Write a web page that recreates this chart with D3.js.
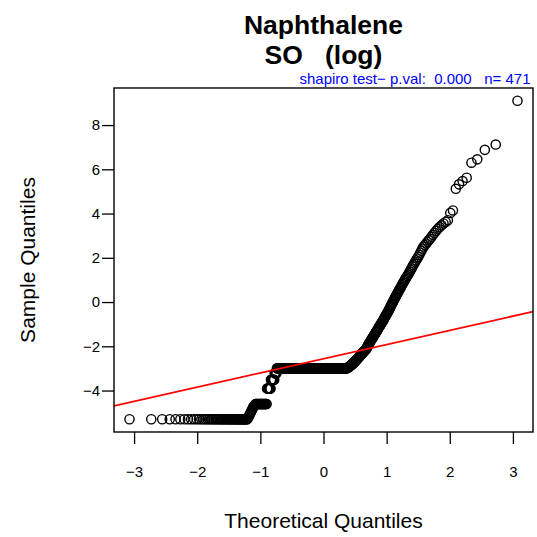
<!DOCTYPE html>
<html>
<head>
<meta charset="utf-8">
<script src="https://cdn.jsdelivr.net/npm/d3@7"></script>
<style>
  html, body { margin: 0; padding: 0; background: #fff; }
  svg { display: block; font-family: "Liberation Sans", Arial, Helvetica, sans-serif; }
  text { white-space: pre; }
</style>
</head>
<body>
<svg id="chart" width="537" height="537"></svg>
<script>
// ---- Data (sorted sample values, natural log scale) ----
// Tied lower values (detection-limit levels) and how many observations sit at each
const levelValues = [-5.298, -5.24, -5.18, -5.12, -5.06, -5.00, -4.94, -4.88, -4.82, -4.76, -4.71, -4.68, -4.65, -4.605, -3.912, -3.51, -3.22, -2.996];
const levelCounts = [54, 1, 1, 1, 1, 1, 1, 1, 1, 1, 1, 1, 1, 21, 8, 8, 5, 196];
// Remaining observations (ranks 305..471)
const upperValues = [
  -2.98,-2.97,-2.96,-2.95,-2.94,-2.93,
  -2.92,-2.90,-2.89,-2.87,-2.86,-2.85,-2.83,-2.82,-2.80,-2.79,
  -2.77,-2.75,-2.74,-2.72,-2.70,-2.68,-2.66,-2.65,-2.63,-2.61,
  -2.59,-2.57,-2.55,-2.53,-2.51,-2.49,-2.47,-2.45,-2.43,-2.41,
  -2.39,-2.37,-2.35,-2.33,-2.31,-2.28,-2.26,-2.24,-2.22,-2.20,
  -2.18,-2.16,-2.14,-2.12,-2.09,-2.05,-2.01,-1.97,-1.94,-1.90,
  -1.87,-1.83,-1.80,-1.77,-1.73,-1.70,-1.67,-1.64,-1.60,-1.57,
  -1.54,-1.50,-1.47,-1.43,-1.40,-1.36,-1.33,-1.29,-1.26,-1.22,
  -1.18,-1.14,-1.11,-1.07,-1.03,-0.99,-0.95,-0.92,-0.88,-0.84,
  -0.80,-0.75,-0.71,-0.66,-0.62,-0.58,-0.53,-0.49,-0.44,-0.40,
  -0.35,-0.29,-0.24,-0.18,-0.13,-0.08,-0.02,0.03,0.09,0.14,
  0.20,0.25,0.31,0.36,0.42,0.48,0.53,0.59,0.64,0.70,
  0.76,0.82,0.88,0.94,1.00,1.06,1.12,1.18,1.24,1.30,
  1.37,1.45,1.52,1.60,1.67,1.74,1.82,1.89,1.97,2.04,
  2.13,2.23,2.32,2.42,2.51,2.58,2.65,2.72,2.79,2.86,
  2.95,3.04,3.13,3.22,3.31,3.39,3.47,3.55,3.62,3.70,
  4.03,4.14,5.12,5.32,5.47,5.62,6.30,6.45,6.88,7.12,9.10
];
const xTicks = [-3, -2, -1, 0, 1, 2, 3];
const yTicks = [-4, -2, 0, 2, 4, 6, 8];
const titleLines = ["Naphthalene", "SO   (log)"];
const subtitle = "shapiro test\u2212 p.val:  0.000   n= 471";
const xLabel = "Theoretical Quantiles";
const yLabel = "Sample Quantiles";

// ---- Build sample ----
const sample = [];
levelValues.forEach((v, i) => { for (let k = 0; k < levelCounts[i]; k++) sample.push(v); });
upperValues.forEach(v => sample.push(v));
sample.sort(d3.ascending);
const n = sample.length;

// inverse standard normal CDF (Acklam)
function qnorm(p) {
  const a=[-3.969683028665376e+01,2.209460984245205e+02,-2.759285104469687e+02,1.383577518672690e+02,-3.066479806614716e+01,2.506628277459239e+00];
  const b=[-5.447609879822406e+01,1.615858368580409e+02,-1.556989798598866e+02,6.680131188771972e+01,-1.328068155288572e+01];
  const c=[-7.784894002430293e-03,-3.223964580411365e-01,-2.400758277161838e+00,-2.549671010115433e+00,4.374664141464968e+00,2.938163982698783e+00];
  const d=[7.784695709041462e-03,3.224671290700398e-01,2.445134137142996e+00,3.754408661907416e+00];
  const pl = 0.02425, ph = 1 - pl;
  let q, r;
  if (p < pl) { q = Math.sqrt(-2*Math.log(p)); return (((((c[0]*q+c[1])*q+c[2])*q+c[3])*q+c[4])*q+c[5])/((((d[0]*q+d[1])*q+d[2])*q+d[3])*q+1); }
  if (p <= ph) { q = p-0.5; r = q*q; return (((((a[0]*r+a[1])*r+a[2])*r+a[3])*r+a[4])*r+a[5])*q/(((((b[0]*r+b[1])*r+b[2])*r+b[3])*r+b[4])*r+1); }
  q = Math.sqrt(-2*Math.log(1-p)); return -(((((c[0]*q+c[1])*q+c[2])*q+c[3])*q+c[4])*q+c[5])/((((d[0]*q+d[1])*q+d[2])*q+d[3])*q+1);
}
const pts = sample.map((y, i) => ({ x: qnorm((i + 0.5) / n), y }));

// ---- Layout ----
const W = 537, H = 537;
const plot = { left: 114, right: 533, top: 88, bottom: 432 };
const font = 15, fontLab = 21, fontTitle = 26.5;

function ext(arr) { const [lo, hi] = d3.extent(arr); const e = (hi - lo) * 0.04; return [lo - e, hi + e]; }
const x = d3.scaleLinear().domain(ext(pts.map(d => d.x))).range([plot.left, plot.right]);
const y = d3.scaleLinear().domain(ext(pts.map(d => d.y))).range([plot.bottom, plot.top]);

const svg = d3.select("#chart");
svg.append("rect").attr("width", W).attr("height", H).attr("fill", "#fff");

svg.append("clipPath").attr("id", "clip").append("rect")
  .attr("x", plot.left).attr("y", plot.top)
  .attr("width", plot.right - plot.left).attr("height", plot.bottom - plot.top);

// points
svg.append("g").selectAll("circle").data(pts).join("circle")
  .attr("cx", d => x(d.x)).attr("cy", d => y(d.y)).attr("r", 4.6)
  .attr("fill", "none").attr("stroke", "#000").attr("stroke-width", 1.4);

// qq line through quartiles
const q1 = d3.quantileSorted(sample, 0.25), q3 = d3.quantileSorted(sample, 0.75);
const z1 = qnorm(0.25), z3 = qnorm(0.75);
const slope = (q3 - q1) / (z3 - z1), intercept = q1 - slope * z1;
const [xd0, xd1] = x.domain();
svg.append("line").attr("clip-path", "url(#clip)")
  .attr("x1", x(xd0)).attr("y1", y(intercept + slope * xd0))
  .attr("x2", x(xd1)).attr("y2", y(intercept + slope * xd1))
  .attr("stroke", "#ff0000").attr("stroke-width", 1.8);

// box
svg.append("rect").attr("x", plot.left).attr("y", plot.top)
  .attr("width", plot.right - plot.left).attr("height", plot.bottom - plot.top)
  .attr("fill", "none").attr("stroke", "#000").attr("stroke-width", 1.4);

// axes
const fmt = d3.format("d");
const xAxis = d3.axisBottom(x).tickValues(xTicks).tickFormat(fmt).tickSize(12).tickPadding(22);
const gx = svg.append("g").attr("transform", `translate(0,${plot.bottom})`).call(xAxis);
const yAxis = d3.axisLeft(y).tickValues(yTicks).tickFormat(fmt).tickSize(12).tickPadding(2);
const gy = svg.append("g").attr("transform", `translate(${plot.left},0)`).call(yAxis);
[gx, gy].forEach(g => {
  g.select(".domain").remove();
  g.selectAll(".tick line").attr("stroke", "#000").attr("stroke-width", 1.3);
  g.selectAll(".tick text").attr("fill", "#000").style("font-size", font + "px")
    .style("font-family", '"Liberation Sans", Arial, sans-serif');
});

// titles
const cx = (plot.left + plot.right) / 2;
svg.append("text").attr("x", cx).attr("y", 33.5).attr("text-anchor", "middle")
  .style("font-size", fontTitle + "px").style("font-weight", "bold").text(titleLines[0]);
svg.append("text").attr("x", cx).attr("y", 63.5).attr("text-anchor", "middle")
  .style("font-size", fontTitle + "px").style("font-weight", "bold").text(titleLines[1]);
svg.append("text").attr("x", 530.5).attr("y", 84).attr("text-anchor", "end")
  .style("font-size", font + "px").attr("fill", "#0000ff").text(subtitle);

svg.append("text").attr("x", cx).attr("y", 528).attr("text-anchor", "middle")
  .style("font-size", fontLab + "px").text(xLabel);
svg.append("text").attr("transform", `translate(35,${(plot.top + plot.bottom) / 2}) rotate(-90)`)
  .attr("text-anchor", "middle").style("font-size", fontLab + "px").text(yLabel);
</script>
</body>
</html>
